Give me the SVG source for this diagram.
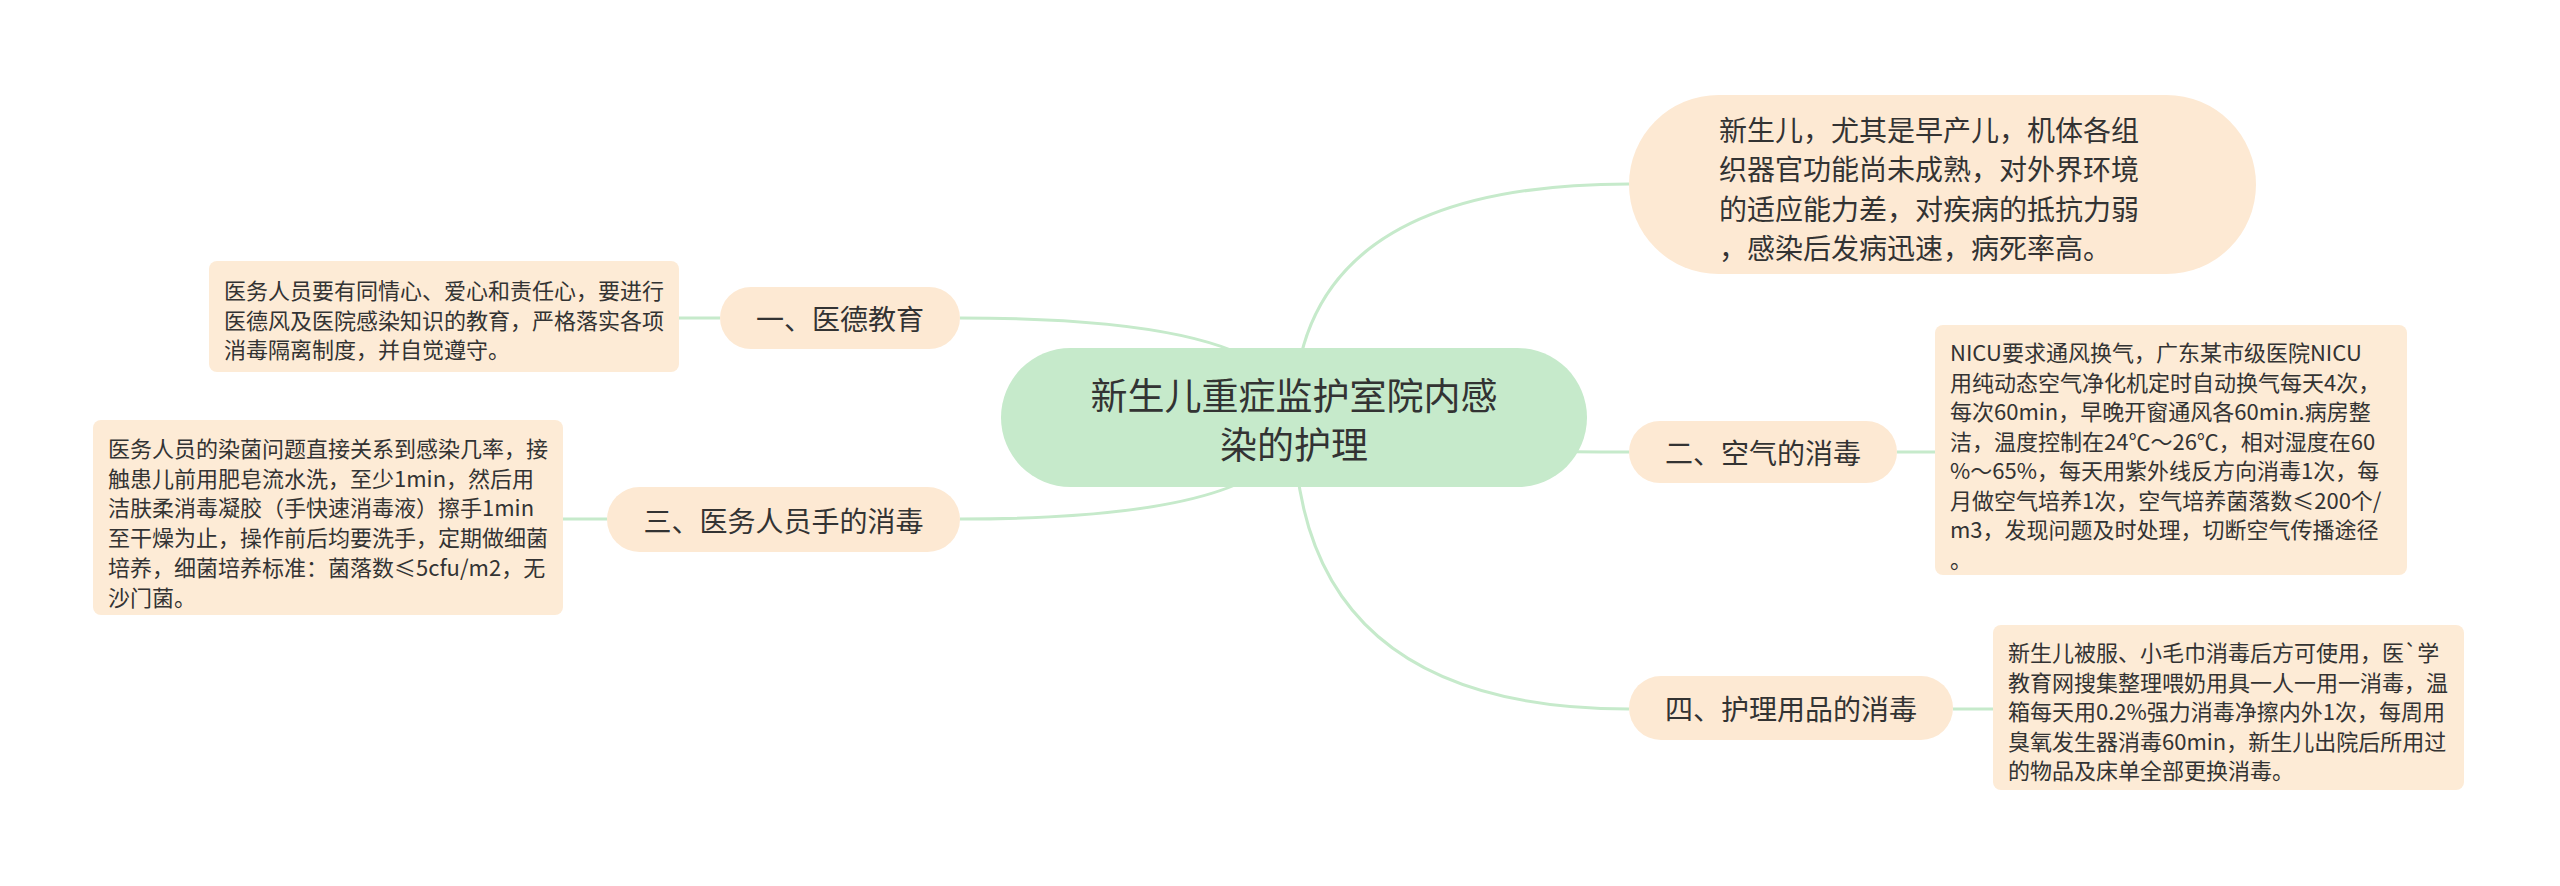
<svg xmlns="http://www.w3.org/2000/svg" width="2560" height="886" viewBox="0 0 2560 886">
<style>
text{font-family:"Noto Sans CJK SC","Noto Sans",sans-serif;fill:#333;dominant-baseline:central}
tspan{dominant-baseline:central}
.root{fill:#c6eacb}
.br{fill:#fde9d3}
.leaf{fill:#fdebd6}
.c{fill:none;stroke:#c6eacb;stroke-width:3}
.t38{font-size:37px}
.t28{font-size:28px}
.t22{font-size:22px}
</style>
<rect width="2560" height="886" fill="#ffffff"/>
<g id="connectors">
<path class="c" d="M1294,418 Q1294,184 1629,184"/>
<path class="c" d="M1294,418 Q1294,452 1629,452"/>
<path class="c" d="M1294,418 Q1294,709 1629,709"/>
<path class="c" d="M1294,418 Q1294,318 960,318"/>
<path class="c" d="M1294,418 Q1294,519 960,519"/>
<path class="c" d="M720,318 L679,318"/>
<path class="c" d="M607,519 L563,519"/>
<path class="c" d="M1897,452 L1935,452"/>
<path class="c" d="M1953,709 L1993,709"/>
</g>
<g id="root">
<rect class="root" x="1001" y="348" width="586" height="139" rx="69.5"/>
<text class="t38" text-anchor="middle"><tspan x="1294" y="394">新生儿重症监护室院内感</tspan><tspan x="1294" y="443">染的护理</tspan></text>
</g>
<g id="node-top">
<rect class="br" x="1629" y="95" width="627" height="179" rx="89.5"/>
<text class="t28"><tspan x="1719" y="129">新生儿，尤其是早产儿，机体各组</tspan><tspan x="1719" y="168">织器官功能尚未成熟，对外界环境</tspan><tspan x="1719" y="207.5">的适应能力差，对疾病的抵抗力弱</tspan><tspan x="1719" y="247">，感染后发病迅速，病死率高。</tspan></text>
</g>
<g id="node-1">
<rect class="br" x="720" y="287" width="240" height="62" rx="31"/>
<text class="t28" x="840" y="318" text-anchor="middle">一、医德教育</text>
</g>
<g id="leaf-1">
<rect class="leaf" x="209" y="261" width="470" height="111" rx="8"/>
<text class="t22"><tspan x="224" y="289">医务人员要有同情心、爱心和责任心，要进行</tspan><tspan x="224" y="318.5">医德风及医院感染知识的教育，严格落实各项</tspan><tspan x="224" y="348">消毒隔离制度，并自觉遵守。</tspan></text>
</g>
<g id="node-2">
<rect class="br" x="1629" y="421" width="268" height="62" rx="31"/>
<text class="t28" x="1763" y="452" text-anchor="middle">二、空气的消毒</text>
</g>
<g id="leaf-2">
<rect class="leaf" x="1935" y="325" width="472" height="250" rx="8"/>
<text class="t22"><tspan x="1950" y="351">NICU要求通风换气，广东某市级医院NICU</tspan><tspan x="1950" y="380.5">用纯动态空气净化机定时自动换气每天4次，</tspan><tspan x="1950" y="410">每次60min，早晚开窗通风各60min.病房整</tspan><tspan x="1950" y="439.5">洁，温度控制在24℃～26℃，相对湿度在60</tspan><tspan x="1950" y="469">%～65%，每天用紫外线反方向消毒1次，每</tspan><tspan x="1950" y="498.5">月做空气培养1次，空气培养菌落数≤200个/</tspan><tspan x="1950" y="528">m3，发现问题及时处理，切断空气传播途径</tspan><tspan x="1950" y="557.5">。</tspan></text>
</g>
<g id="node-3">
<rect class="br" x="607" y="487" width="353" height="65" rx="32.5"/>
<text class="t28" x="783.5" y="519.5" text-anchor="middle">三、医务人员手的消毒</text>
</g>
<g id="leaf-3">
<rect class="leaf" x="93" y="420" width="470" height="195" rx="8"/>
<text class="t22"><tspan x="108" y="447">医务人员的染菌问题直接关系到感染几率，接</tspan><tspan x="108" y="476.7">触患儿前用肥皂流水洗，至少1min，然后用</tspan><tspan x="108" y="506.4">洁肤柔消毒凝胶（手快速消毒液）擦手1min</tspan><tspan x="108" y="536">至干燥为止，操作前后均要洗手，定期做细菌</tspan><tspan x="108" y="565.8">培养，细菌培养标准：菌落数≤5cfu/m2，无</tspan><tspan x="108" y="595.5">沙门菌。</tspan></text>
</g>
<g id="node-4">
<rect class="br" x="1629" y="676" width="324" height="64" rx="32"/>
<text class="t28" x="1791" y="708" text-anchor="middle">四、护理用品的消毒</text>
</g>
<g id="leaf-4">
<rect class="leaf" x="1993" y="625" width="471" height="165" rx="8"/>
<text class="t22"><tspan x="2008" y="651">新生儿被服、小毛巾消毒后方可使用，医`学</tspan><tspan x="2008" y="680.5">教育网搜集整理喂奶用具一人一用一消毒，温</tspan><tspan x="2008" y="710">箱每天用0.2%强力消毒净擦内外1次，每周用</tspan><tspan x="2008" y="739.5">臭氧发生器消毒60min，新生儿出院后所用过</tspan><tspan x="2008" y="769">的物品及床单全部更换消毒。</tspan></text>
</g>
</svg>
